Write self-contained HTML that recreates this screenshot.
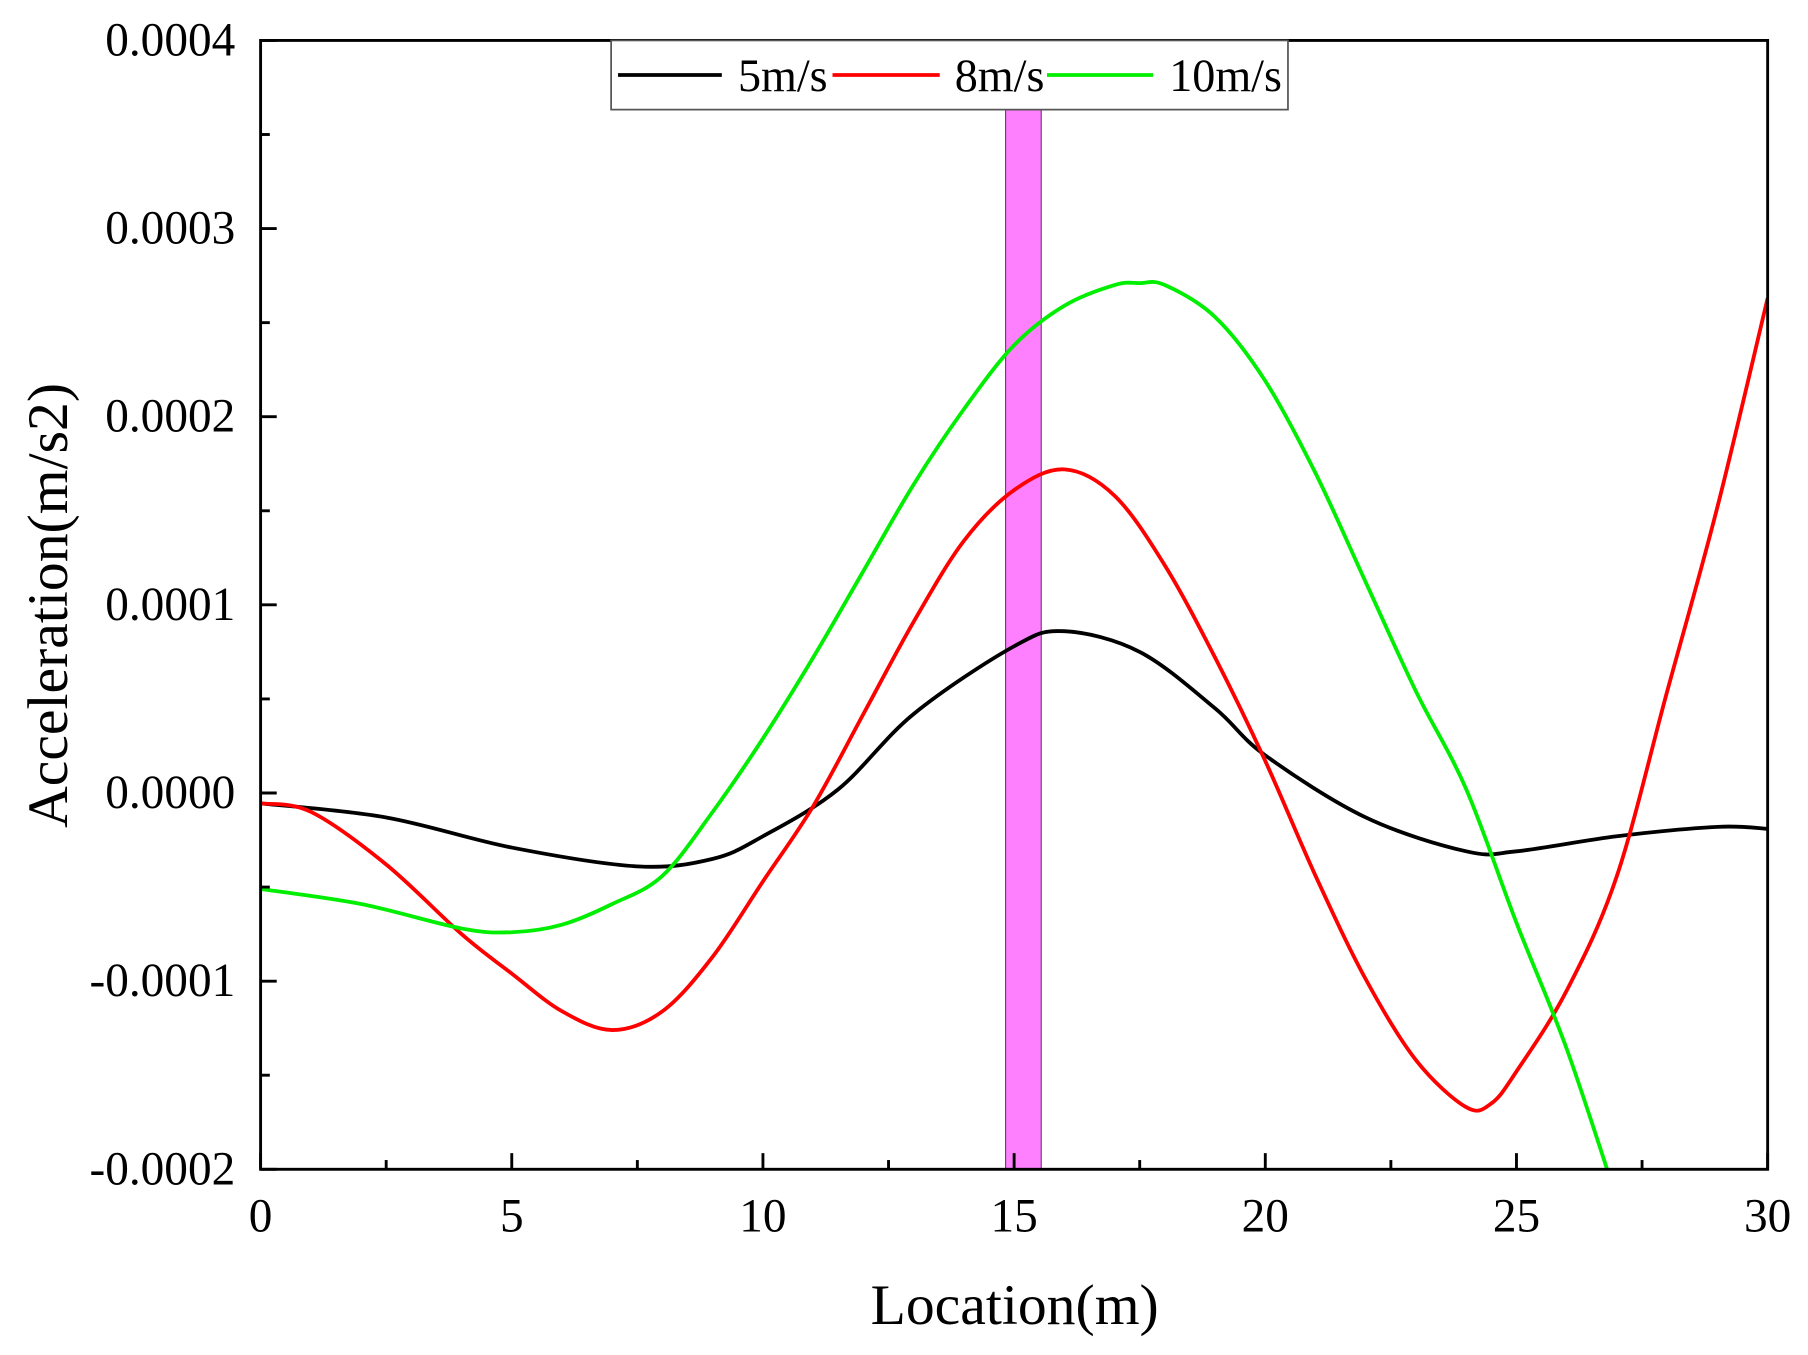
<!DOCTYPE html>
<html><head><meta charset="utf-8"><style>
html,body{margin:0;padding:0;background:#fff;}
svg{display:block;font-family:"Liberation Serif",serif;}
</style></head><body>
<svg id="chart" width="1808" height="1355" viewBox="0 0 1568 1175" xmlns="http://www.w3.org/2000/svg">
<defs><clipPath id="clip"><rect x="226" y="35" width="1307" height="979"/></clipPath></defs>
<g id="marks" clip-path="url(#clip)"></g>
<g id="axes"></g>
</svg>
<script>
const xTicks=[0,5,10,15,20,25,30];
const yTicks=[-2,-1,0,1,2,3,4];
const yTickLabels=["-0.0002","-0.0001","0.0000","0.0001","0.0002","0.0003","0.0004"];
const seriesNames=["5m/s","8m/s","10m/s"];
const seriesColors=["#000000","#ff0000","#00ee00"];
const x5=[0,2.5,5,7.5,9,10,11.5,13,15,16,17.5,19,20,22,24,25,27,29,30];
const y5=[-0.055,-0.13,-0.29,-0.39,-0.35,-0.23,0.02,0.42,0.78,0.86,0.75,0.45,0.2,-0.13,-0.31,-0.31,-0.23,-0.18,-0.19];
const x8=[0,1,2.5,4,5,6,7,8,9,10,11,12,13,14,15,16,17,18,19,20,21,22,23,24,24.5,25,26,27,28,29,30];
const y8=[-0.055,-0.1,-0.38,-0.75,-0.96,-1.16,-1.26,-1.16,-0.87,-0.47,-0.07,0.42,0.91,1.34,1.61,1.72,1.58,1.21,0.72,0.17,-0.44,-0.99,-1.42,-1.67,-1.65,-1.48,-1.05,-0.44,0.54,1.52,2.63];
const x10=[0,2,4,5,6,7,8,9,10,11,12,13,14,15,16,17,17.5,18,19,20,21,22,23,24,25,26,27];
const y10=[-0.51,-0.59,-0.72,-0.74,-0.70,-0.59,-0.44,-0.10,0.29,0.72,1.18,1.64,2.04,2.38,2.59,2.70,2.71,2.70,2.53,2.19,1.70,1.12,0.54,0.02,-0.69,-1.36,-2.16];
const band=[14.83,15.54];
const L=226,R=1533,T=35,B=1014;
const X=v=>L+(v-0)/30*(R-L);
const Y=v=>B-(v+2)/6*(B-T);
const NS="http://www.w3.org/2000/svg";
function mk(tag,attrs,parent){const e=document.createElementNS(NS,tag);for(const k in attrs)e.setAttribute(k,attrs[k]);parent.appendChild(e);return e;}
const marks=document.getElementById('marks'),axes=document.getElementById('axes');
const bandEl=mk('rect',{x:X(band[0]),y:95,width:X(band[1])-X(band[0]),height:B-95,fill:'#ff80ff',stroke:'#7a3a7a','stroke-width':1},marks);


function pathD(xs,ys){const p=xs.map((x,i)=>[X(x),Y(ys[i])]);let d=`M${p[0][0]},${p[0][1]}`;
for(let i=0;i<p.length-1;i++){const p0=p[Math.max(0,i-1)],p1=p[i],p2=p[i+1],p3=p[Math.min(p.length-1,i+2)];
d+=` C${p1[0]+(p2[0]-p0[0])/6},${p1[1]+(p2[1]-p0[1])/6} ${p2[0]-(p3[0]-p1[0])/6},${p2[1]-(p3[1]-p1[1])/6} ${p2[0]},${p2[1]}`;}return d;}
const all=[[x5,y5],[x8,y8],[x10,y10]];
all.forEach((s,i)=>{const e=mk('path',{d:pathD(s[0],s[1]),fill:'none',stroke:seriesColors[i],'stroke-width':3.3},marks);

});
const frame=mk('rect',{x:L,y:T,width:R-L,height:B-T,fill:'none',stroke:'#000','stroke-width':2.5},axes);


for(let v=0;v<=30;v+=2.5){const maj=v%5===0;mk('line',{x1:X(v),x2:X(v),y1:B,y2:B-(maj?14:8),stroke:'#000','stroke-width':2.5},axes);}
xTicks.forEach(v=>{const t=mk('text',{x:X(v),y:B+54,'font-size':41,'text-anchor':'middle'},axes);t.textContent=v;

});
for(let v=-2;v<=4;v+=0.5){const maj=Math.abs(v%1)<1e-9;mk('line',{x1:L,x2:L+(maj?14:8),y1:Y(v),y2:Y(v),stroke:'#000','stroke-width':2.5},axes);}
yTicks.forEach((v,i)=>{const t=mk('text',{x:L-22,y:Y(v)+13,'font-size':41,'text-anchor':'end'},axes);t.textContent=yTickLabels[i];

});
const xt=mk('text',{x:880,y:1148,'font-size':50,'text-anchor':'middle'},axes);xt.textContent='Location(m)';


const yt=mk('text',{x:0,y:0,'font-size':50,'text-anchor':'middle',transform:'translate(58,525) rotate(-90)'},axes);yt.textContent='Acceleration(m/s2)';


const lg=mk('g',{},axes);


mk('rect',{x:530,y:35,width:587,height:60,fill:'#fff',stroke:'#555','stroke-width':1.5},lg);
const lx=[[536,626,640],[722,815,828],[908,1000,1014]];
seriesNames.forEach((n,i)=>{mk('line',{x1:lx[i][0],x2:lx[i][1],y1:65,y2:65,stroke:seriesColors[i],'stroke-width':3.3},lg);
const t=mk('text',{x:lx[i][2],y:79,'font-size':40},lg);t.textContent=n;

});
</script>
</body></html>
